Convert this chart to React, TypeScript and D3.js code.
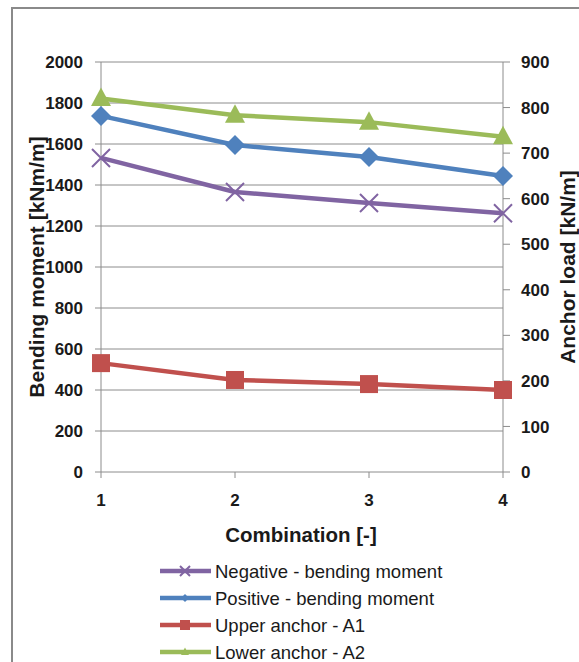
import React from "react";
import * as d3 from "d3";

// Combination number along x
const combinations = [1, 2, 3, 4];

// Bending moments [kNm/m], left axis
const negativeMoment = [1532, 1366, 1312, 1262];
const positiveMoment = [1737, 1595, 1537, 1444];

// Anchor loads [kN/m], right axis
const upperAnchor = [239, 202, 193, 180];
const lowerAnchor = [820, 783, 768, 736];

const leftTicks = [0, 200, 400, 600, 800, 1000, 1200, 1400, 1600, 1800, 2000];
const rightTicks = [0, 100, 200, 300, 400, 500, 600, 700, 800, 900];

const seriesNames = [
  "Negative - bending moment",
  "Positive - bending moment",
  "Upper anchor - A1",
  "Lower anchor - A2",
];

const W = 579;
const H = 662;
const font = "'Liberation Sans', Arial, sans-serif";

const colors = ["#8064A2", "#4F81BD", "#C0504D", "#9BBB59"];

const Marker = ({ kind, x, y, s, color }) => {
  if (kind === "x") {
    return (
      <path
        d={`M${x - s},${y - s}L${x + s},${y + s}M${x - s},${y + s}L${x + s},${y - s}`}
        stroke={color}
        strokeWidth={2}
        fill="none"
      />
    );
  }
  if (kind === "diamond") {
    return <path d={`M${x},${y - s}L${x + s},${y}L${x},${y + s}L${x - s},${y}Z`} fill={color} />;
  }
  if (kind === "square") {
    return <rect x={x - s} y={y - s} width={2 * s} height={2 * s} fill={color} />;
  }
  return <path d={`M${x},${y - s * 1.1}L${x + s},${y + s * 0.75}L${x - s},${y + s * 0.75}Z`} fill={color} />;
};

export default function App() {
  const x = d3.scalePoint<number>().domain(combinations).range([101, 503]);
  const yL = d3.scaleLinear().domain([0, 2000]).range([472, 62]);
  const yR = d3.scaleLinear().domain([0, 900]).range([472, 62]);
  const x0 = x(1)!;
  const x1 = x(4)!;

  const line = d3
    .line<[number, number]>()
    .x((d) => d[0])
    .y((d) => d[1]);

  const series = [
    { values: negativeMoment, scale: yL, kind: "x", size: 9 },
    { values: positiveMoment, scale: yL, kind: "diamond", size: 10 },
    { values: upperAnchor, scale: yR, kind: "square", size: 9 },
    { values: lowerAnchor, scale: yR, kind: "triangle", size: 10 },
  ];

  return (
    <svg
      width={W}
      height={H}
      style={{ position: "absolute", left: 0, top: 0, background: "#fff" }}
      fontFamily={font}
    >
      <rect x={12} y={8} width={620} height={700} fill="#fff" stroke="#8a8a8a" strokeWidth={2} />

      {/* gridlines */}
      {leftTicks.map((t) => (
        <line key={t} x1={x0 - 6} x2={x1} y1={yL(t)} y2={yL(t)} stroke="#8c8c8c" strokeWidth={1} />
      ))}
      {/* left axis */}
      <line x1={x0} x2={x0} y1={yL(0)} y2={yL(2000)} stroke="#8c8c8c" />
      {leftTicks.map((t) => (
        <text
          key={t}
          x={83}
          y={yL(t)}
          dy="0.36em"
          textAnchor="end"
          fontSize={17}
          fontWeight="bold"
          fill="#1a1a1a"
        >
          {t}
        </text>
      ))}
      {/* right axis */}
      <line x1={x1} x2={x1} y1={yR(0)} y2={yR(900)} stroke="#8c8c8c" />
      {rightTicks.map((t) => (
        <g key={t}>
          <line x1={x1} x2={x1 + 7} y1={yR(t)} y2={yR(t)} stroke="#8c8c8c" />
          <text x={521} y={yR(t)} dy="0.36em" fontSize={17} fontWeight="bold" fill="#1a1a1a">
            {t}
          </text>
        </g>
      ))}
      {/* x axis */}
      {combinations.map((c) => (
        <g key={c}>
          <line x1={x(c)} x2={x(c)} y1={472} y2={478} stroke="#8c8c8c" />
          <text x={x(c)} y={500} dy="0.36em" textAnchor="middle" fontSize={17} fontWeight="bold" fill="#1a1a1a">
            {c}
          </text>
        </g>
      ))}

      <text
        transform={`translate(36,${yL(1000)}) rotate(-90)`}
        textAnchor="middle"
        dy="0.36em"
        fontSize={21}
        fontWeight="bold"
        fill="#1a1a1a"
      >
        Bending moment [kNm/m]
      </text>
      <text
        transform={`translate(567,${yL(1000)}) rotate(-90)`}
        textAnchor="middle"
        dy="0.36em"
        fontSize={21}
        fontWeight="bold"
        fill="#1a1a1a"
      >
        Anchor load [kN/m]
      </text>
      <text x={301} y={535} dy="0.36em" textAnchor="middle" fontSize={20.5} fontWeight="bold" fill="#1a1a1a">
        Combination [-]
      </text>

      {/* series */}
      {series.map((s, i) => {
        const pts: [number, number][] = s.values.map((v, j) => [x(combinations[j])!, s.scale(v)]);
        return (
          <g key={i}>
            <path d={line(pts)!} fill="none" stroke={colors[i]} strokeWidth={4.5} strokeLinejoin="round" />
            {pts.map((p, j) => (
              <Marker key={j} kind={s.kind} x={p[0]} y={p[1]} s={s.size} color={colors[i]} />
            ))}
          </g>
        );
      })}

      {/* legend */}
      {seriesNames.map((name, i) => {
        const ly = 571 + i * 27;
        const s = series[i];
        return (
          <g key={name}>
            <line x1={160} x2={211} y1={ly} y2={ly} stroke={colors[i]} strokeWidth={4.5} />
            <Marker kind={s.kind} x={185} y={ly} s={s.kind === "x" ? 5 : s.kind === "square" ? 5 : 4} color={colors[i]} />
            <text x={215} y={ly} dy="0.36em" fontSize={18.5} fill="#1a1a1a">
              {name}
            </text>
          </g>
        );
      })}
    </svg>
  );
}
